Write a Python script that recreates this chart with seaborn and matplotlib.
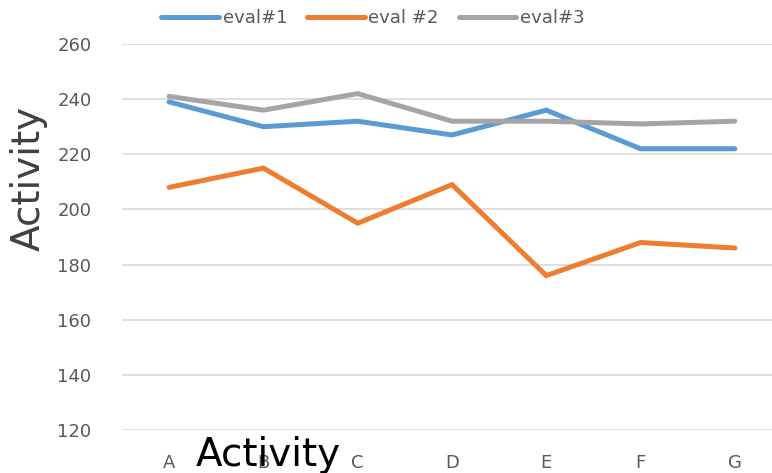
import pandas as pd
import matplotlib
matplotlib.use("Agg")
import matplotlib.pyplot as plt
import seaborn as sns

sns.set_style("white")
plt.rcParams['font.family'] = ['DejaVu Sans']

categories = ["A", "B", "C", "D", "E", "F", "G"]
eval1 = [239, 230, 232, 227, 236, 222, 222]
eval2 = [208, 215, 195, 209, 176, 188, 186]
eval3 = [241, 236, 242, 232, 232, 231, 232]
series_names = ["eval#1", "eval #2", "eval#3"]
colors = ["#5B9BD5", "#ED7D31", "#A5A5A5"]
yticks = [120, 140, 160, 180, 200, 220, 240, 260]

df = pd.concat([
    pd.DataFrame({"cat": categories, "value": vals, "series": name})
    for name, vals in zip(series_names, [eval1, eval2, eval3])
])

fig = plt.figure(figsize=(7.72, 4.73), dpi=100)
ax = fig.add_axes([122 / 772, 43 / 473, 660 / 772, 386 / 473])

sns.lineplot(data=df, x="cat", y="value", hue="series", hue_order=series_names,
             palette=colors, linewidth=3.6, ax=ax, sort=False)
for line in ax.lines:
    line.set_solid_capstyle("round")
    line.set_solid_joinstyle("miter")

ax.set_xlim(-0.5, 6.5)
ax.set_ylim(120, 260)
ax.set_yticks(yticks)
ax.grid(axis="y", color="#d9d9d9", linewidth=1.2)
ax.set_axisbelow(True)
for s in ax.spines.values():
    s.set_visible(False)
ax.tick_params(axis="both", length=0, labelsize=13, labelcolor="#595959")
ax.tick_params(axis="y", pad=22)
ax.tick_params(axis="x", pad=17)

ax.set_ylabel("Activity", fontsize=28, color="#404040", va="center")
ax.yaxis.set_label_coords(-0.141, 0.653)
ax.set_xlabel("Activity", fontsize=28, color="black", va="center")
ax.xaxis.set_label_coords(0.221, -0.065)

handles, labels = ax.get_legend_handles_labels()
ax.legend(handles, labels, loc="center", bbox_to_anchor=(373 / 772, 1 - 18 / 473),
          bbox_transform=fig.transFigure, ncol=3, frameon=False, fontsize=13,
          handlelength=3.2, handletextpad=0.2, columnspacing=1.1,
          labelcolor="#595959")

fig.savefig("out.png", dpi=100)
